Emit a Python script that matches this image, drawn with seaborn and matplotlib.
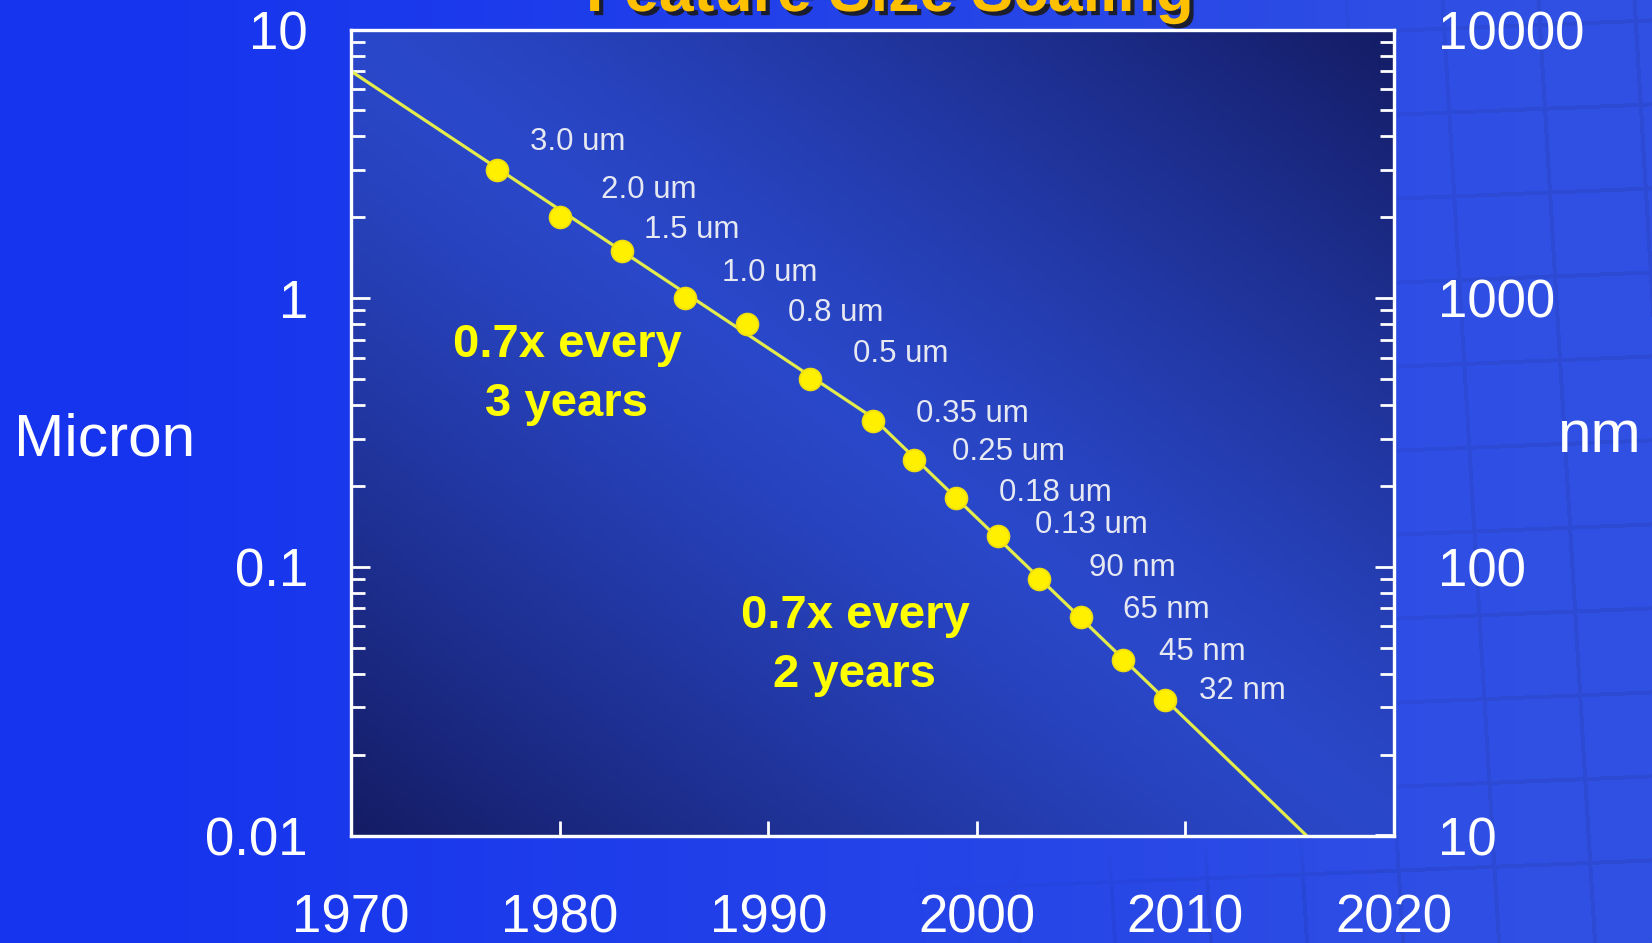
import numpy as np
import pandas as pd
import matplotlib
matplotlib.use("Agg")
import matplotlib.pyplot as plt
import matplotlib.patheffects as pe
from matplotlib.ticker import FixedLocator, LogLocator, NullFormatter
import seaborn as sns

# Process nodes: year of introduction and minimum feature size in micron
node_years = [1977, 1980, 1983, 1986, 1989, 1992, 1995, 1997, 1999, 2001, 2003, 2005, 2007, 2009]
node_microns = [3.0, 2.0, 1.5, 1.0, 0.8, 0.5, 0.35, 0.25, 0.18, 0.13, 0.09, 0.065, 0.045, 0.032]
node_labels = ["3.0 um", "2.0 um", "1.5 um", "1.0 um", "0.8 um", "0.5 um", "0.35 um",
               "0.25 um", "0.18 um", "0.13 um", "90 nm", "65 nm", "45 nm", "32 nm"]

# Trend knots: 0.7x every 3 years until the mid-90s, then 0.7x every 2 years
trend_years = [1970, 1995, 2015.8]
trend_microns = [7.0, 0.36, 0.01]

# Axis ticks
year_ticks = [1970, 1980, 1990, 2000, 2010, 2020]
micron_ticks = [0.01, 0.1, 1, 10]
micron_tick_labels = ["0.01", "0.1", "1", "10"]
nm_ticks = [10, 100, 1000, 10000]
nm_tick_labels = ["10", "100", "1000", "10000"]

# Label offsets from each node marker (points)
label_offsets = [(24, 20), (30, 20), (16, 15), (27, 18), (29, 8), (31, 18), (31, 5),
                 (27, 6), (31, 4), (27, 8), (36, 8), (30, 5), (26, 6), (25, 6)]

sns.set_theme(style="ticks")
plt.rcParams["font.family"] = ["Liberation Sans", "DejaVu Sans"]

W, H = 1652, 943
fig = plt.figure(figsize=(W / 100, H / 100), dpi=100)

# Slide background: bright blue with a faint die-grid texture towards the right
bg = fig.add_axes([0, 0, 1, 1], zorder=-10)
X, Y = np.meshgrid(np.arange(W), np.arange(H))
left_col = np.array([22, 52, 238]) / 255
right_col = np.array([48, 80, 228]) / 255
mix = np.clip(X / W * 1.2 - 0.1, 0, 1)[..., None]
bg_img = left_col * (1 - mix) + right_col * mix
grid = (((X - 0.06 * Y) % 96) < 4) | (((Y + 0.04 * X) % 84) < 4)
fade = np.clip((X - 1250) / 250, 0, 1) + np.clip((Y - 840) / 60, 0, 1) * np.clip((X - 900) / 300, 0, 1)
fade = np.clip(fade, 0, 1)
bg_img = bg_img * (1 - 0.07 * (grid * fade))[..., None]
bg.imshow(bg_img, extent=[0, 1, 0, 1], aspect="auto", origin="upper")
bg.set_xlim(0, 1)
bg.set_ylim(0, 1)
bg.axis("off")

ax_rect = [351 / W, 1 - 835.5 / H, (1394 - 351) / W, (835.5 - 29.5) / H]

# Plot-area gradient: lighter along the main diagonal, dark navy towards the corners
pbg = fig.add_axes(ax_rect, zorder=-5)
px = np.linspace(0, 1, 300)[None, :]
py = np.linspace(0, 1, 240)[:, None]
d = np.clip(np.abs(px + py - 1.0), 0, 1) ** 1.2
light = np.array([42, 72, 202]) / 255
dark = np.array([20, 28, 100]) / 255
p_img = light * (1 - d[..., None]) + dark * d[..., None]
pbg.imshow(p_img, extent=[0, 1, 0, 1], aspect="auto", origin="lower")
pbg.set_xlim(0, 1)
pbg.set_ylim(0, 1)
pbg.axis("off")

ax = fig.add_axes(ax_rect)
ax.patch.set_visible(False)

trend = pd.DataFrame({"year": trend_years, "micron": trend_microns})
nodes = pd.DataFrame({"year": node_years, "micron": node_microns, "label": node_labels})

sns.lineplot(data=trend, x="year", y="micron", ax=ax, color="#E4EC4C", linewidth=2.3,
             estimator=None, sort=False, zorder=3)
sns.scatterplot(data=nodes, x="year", y="micron", ax=ax, s=250, color="#FFF000",
                edgecolor="#EEDD10", linewidth=1.2, zorder=4)

ax.set_xscale("linear")
ax.set_yscale("log")
ax.set_xlim(year_ticks[0], year_ticks[-1])
ax.set_ylim(micron_ticks[0], micron_ticks[-1])
ax.set_xlabel("")
ax.set_ylabel("")

for (yr, val, lab), (dx, dy) in zip(zip(node_years, node_microns, node_labels), label_offsets):
    ax.annotate(lab, xy=(yr, val), xytext=(dx, dy), textcoords="offset points",
                ha="left", va="center", fontsize=22.5, color="#E6E8F2", zorder=5)

for txt, (tx, ty) in [("0.7x every\n3 years", (1980.35, 0.52)),
                      ("0.7x every\n2 years", (1994.16, 0.051))]:
    ax.text(tx, ty, txt, ha="center", va="center", multialignment="center",
            fontsize=34, fontweight="bold", color="#FFFF00", linespacing=1.42, zorder=5)

# Ticks and frame
ax.xaxis.set_major_locator(FixedLocator(year_ticks))
ax.set_xticklabels([str(y) for y in year_ticks])
ax.yaxis.set_major_locator(FixedLocator(micron_ticks))
ax.set_yticklabels(micron_tick_labels)
ax.yaxis.set_minor_locator(LogLocator(base=10, subs=np.arange(2, 10)))
ax.yaxis.set_minor_formatter(NullFormatter())
ax.tick_params(axis="x", which="major", direction="in", length=11, width=2,
               color="white", labelcolor="white", labelsize=38, pad=42, top=False)
ax.tick_params(axis="y", which="major", direction="in", length=14, width=2,
               color="white", labelcolor="white", labelsize=38, pad=31, right=False)
ax.tick_params(axis="y", which="minor", direction="in", length=10, width=2,
               color="white", right=False)
for s in ax.spines.values():
    s.set_color("white")
    s.set_linewidth(2.3)

ax2 = ax.twinx()
ax2.patch.set_visible(False)
ax2.set_yscale("log")
ax2.set_ylim(nm_ticks[0], nm_ticks[-1])
ax2.yaxis.set_major_locator(FixedLocator(nm_ticks))
ax2.set_yticklabels(nm_tick_labels)
ax2.yaxis.set_minor_locator(LogLocator(base=10, subs=np.arange(2, 10)))
ax2.yaxis.set_minor_formatter(NullFormatter())
ax2.tick_params(axis="y", which="major", direction="in", length=14, width=2,
                color="white", labelcolor="white", labelsize=38, pad=32)
ax2.tick_params(axis="y", which="minor", direction="in", length=10, width=2, color="white")
for s in ax2.spines.values():
    s.set_color("white")
    s.set_linewidth(2.3)

fig.text(14 / W, 1 - 440 / H, "Micron", fontsize=43.5, color="white", ha="left", va="center")
fig.text(1557 / W, 1 - 436 / H, "nm", fontsize=43.5, color="white", ha="left", va="center")

fig.text(890 / W, 1 - 11 / H, "Feature Size Scaling", fontsize=45, fontweight="bold",
         color="#FFC000", ha="center", va="baseline",
         path_effects=[pe.withSimplePatchShadow(offset=(3, -3), shadow_rgbFace="#1A1A1A", alpha=0.9)])

fig.savefig("out.png", dpi=100)
